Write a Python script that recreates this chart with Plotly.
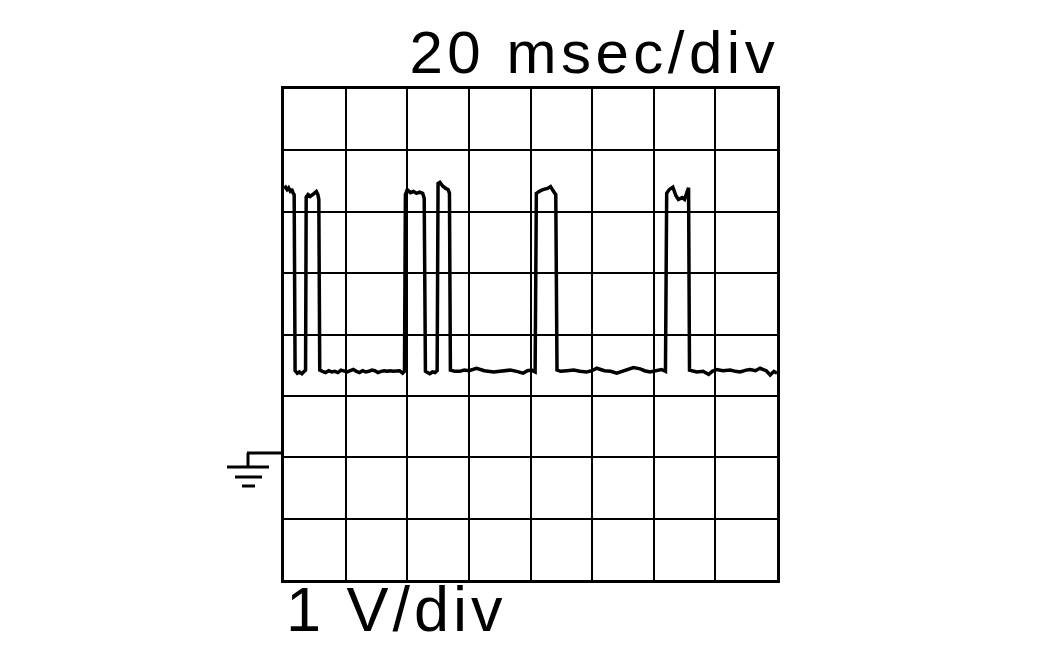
import plotly.graph_objects as go

# ---------------- data ----------------
time_ms = [
    0.0, 0.5, 1.0, 1.5, 2.0, 2.5, 3.0, 3.3,
    3.6, 4.3, 5.0, 5.8, 6.6, 7.0,
    7.2, 7.8, 8.5, 9.2, 9.8, 10.5, 11.0, 11.3,
    11.6, 12.5, 13.5, 14.5, 15.5, 16.5, 17.5, 18.5, 19.5, 20.5, 21.5, 22.5,
    23.5, 24.5, 25.5, 26.5, 27.5, 28.5, 29.5, 30.5, 31.5, 32.5, 33.5, 34.5,
    35.5, 36.5, 37.5, 38.5, 39.1,
    39.4, 40.0, 41.0, 42.0, 43.0, 44.0, 45.0, 45.5,
    45.9, 46.5, 47.3, 48.2, 49.0, 49.7,
    50.0, 50.6, 51.5, 52.5, 53.3, 53.7,
    54.0, 55.5, 57.0, 58.5, 60.0, 62.5, 65.0, 68.0, 70.5, 73.4, 75.5, 77.6,
    79.0, 80.4, 81.5,
    81.9, 82.8, 84.0, 85.5, 86.5, 87.5, 88.2,
    88.6, 89.8, 91.8, 94.0, 96.0, 98.2, 100.0, 101.5, 104.0, 106.0, 108.0,
    110.5, 113.4, 115.6, 117.0, 118.8, 121.0, 122.5, 123.8,
    124.2, 125.0, 126.2, 127.2, 128.0, 129.2, 130.0, 130.8, 131.3,
    131.6, 133.0, 134.0, 136.0, 137.8, 139.0, 140.4, 142.5, 144.8, 146.5,
    148.0, 150.0, 151.3, 153.0, 154.5, 156.5, 157.8, 159.0, 160.0,
]
volts = [
    4.38, 4.40, 4.36, 4.39, 4.34, 4.37, 4.30, 4.28,
    1.41, 1.37, 1.39, 1.36, 1.40, 1.42,
    4.24, 4.28, 4.25, 4.27, 4.30, 4.33, 4.28, 4.20,
    1.42, 1.40, 1.38, 1.41, 1.39, 1.40, 1.38, 1.42, 1.40, 1.39, 1.41, 1.43,
    1.40, 1.38, 1.41, 1.39, 1.40, 1.42, 1.41, 1.38, 1.40, 1.41, 1.40, 1.41,
    1.40, 1.40, 1.41, 1.37, 1.40,
    4.28, 4.36, 4.31, 4.33, 4.30, 4.32, 4.30, 4.22,
    1.40, 1.38, 1.36, 1.39, 1.38, 1.41,
    4.46, 4.48, 4.42, 4.38, 4.36, 4.30,
    1.42, 1.40, 1.40, 1.42, 1.41, 1.45, 1.41, 1.39, 1.41, 1.42, 1.40, 1.37,
    1.41, 1.42, 1.39,
    4.30, 4.33, 4.36, 4.38, 4.41, 4.33, 4.28,
    1.42, 1.40, 1.41, 1.42, 1.40, 1.39, 1.41, 1.45, 1.41, 1.40, 1.37,
    1.41, 1.46, 1.44, 1.41, 1.39, 1.41, 1.43, 1.40,
    4.30, 4.36, 4.40, 4.26, 4.20, 4.23, 4.20, 4.32, 4.39,
    1.42, 1.40, 1.39, 1.40, 1.35, 1.40, 1.43, 1.41, 1.42, 1.40,
    1.39, 1.42, 1.43, 1.41, 1.45, 1.41, 1.34, 1.40, 1.37,
]

time_per_div_label = "20 msec/div"
volt_per_div_label = "1 V/div"

# ---------------- figure ----------------
W, H = 1063, 661
L, R, T, B = 284, 286, 89, 81
PW, PH = W - L - R, H - T - B


def px(x):
    return (x - L) / PW


def py(y):
    return (H - B - y) / PH


fig = go.Figure()
fig.add_trace(go.Scatter(
    x=time_ms, y=volts, mode="lines",
    line=dict(color="black", width=3.5),
    hoverinfo="skip", showlegend=False,
))

axis_common = dict(
    showgrid=True, gridcolor="black", gridwidth=2,
    showline=True, linecolor="black", linewidth=3, mirror=True,
    zeroline=False, showticklabels=False, ticks="",
    fixedrange=True,
)
fig.update_xaxes(range=[0, 160], dtick=20, tick0=0, **axis_common)
fig.update_yaxes(range=[-2, 6], dtick=1, tick0=0, **axis_common)

# ground symbol (left side, at 0 V)
gl = dict(color="black", width=3)
shapes = [
    dict(type="line", xref="paper", yref="paper", x0=px(247), x1=px(284), y0=py(453), y1=py(453), line=gl),
    dict(type="line", xref="paper", yref="paper", x0=px(248), x1=px(248), y0=py(453), y1=py(467), line=gl),
    dict(type="line", xref="paper", yref="paper", x0=px(227), x1=px(269), y0=py(467), y1=py(467), line=gl),
    dict(type="line", xref="paper", yref="paper", x0=px(235), x1=px(262), y0=py(477), y1=py(477), line=gl),
    dict(type="line", xref="paper", yref="paper", x0=px(242), x1=px(255), y0=py(486), y1=py(486), line=gl),
]

FONT = "Liberation Sans, Arial, sans-serif"
fig.update_layout(
    width=W, height=H,
    margin=dict(l=L, r=R, t=T, b=B),
    paper_bgcolor="white", plot_bgcolor="white",
    shapes=shapes,
    annotations=[
        dict(text=time_per_div_label, xref="paper", yref="paper", x=1.0, y=1.0,
             xanchor="right", yanchor="bottom", align="right", showarrow=False,
             xshift=4, yshift=1,
             font=dict(family=FONT, size=60, color="black")),
        dict(text=volt_per_div_label, xref="paper", yref="paper", x=0.0, y=0.0,
             xanchor="left", yanchor="top", align="left", showarrow=False,
             yshift=8,
             font=dict(family=FONT, size=63, color="black")),
    ],
)

post = """
document.body.style.margin = '0';
document.body.style.padding = '0';
var gd = document.getElementById('{plot_id}');
var t = gd.querySelectorAll('.annotation-text');
if (t.length > 0) { t[0].style.letterSpacing = '4.5px'; }
if (t.length > 1) { t[1].style.letterSpacing = '4px'; }
"""

fig.write_html("out.html", config={"displayModeBar": False}, post_script=post)
